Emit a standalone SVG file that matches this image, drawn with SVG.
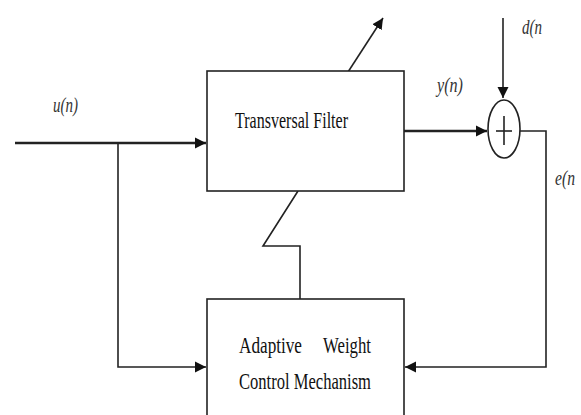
<svg xmlns="http://www.w3.org/2000/svg" width="581" height="415" viewBox="0 0 581 415">
<style>
.box{fill:#fff;stroke:#222;stroke-width:1.6}
.ln{fill:none;stroke:#222;stroke-width:1.6}
.thick{fill:none;stroke:#222;stroke-width:2.6}
.t{font-family:"Liberation Serif","Times New Roman",serif;font-size:23px;fill:#111}
.lab{font-family:"Liberation Serif","Times New Roman",serif;font-style:italic;font-size:21px;fill:#333}
</style>
<defs>
<marker id="ah" viewBox="0 0 10 10" refX="10" refY="5" markerWidth="11" markerHeight="13" markerUnits="userSpaceOnUse" orient="auto">
<path d="M0,0 L10,5 L0,10 Z" fill="#111"/>
</marker>
</defs>
<rect width="581" height="415" fill="#fff"/>
<g id="connectors">
<line class="thick" x1="15" y1="143" x2="206" y2="143" marker-end="url(#ah)"/>
<polyline class="ln" points="118,143 118,367 206,367" marker-end="url(#ah)"/>
<line class="thick" x1="404" y1="131" x2="487" y2="131" marker-end="url(#ah)"/>
<line class="ln" x1="503" y1="18" x2="503" y2="98" marker-end="url(#ah)"/>
<polyline class="ln" points="520,131 546,131 546,367 405,367" marker-end="url(#ah)"/>
<line class="ln" x1="348" y1="72" x2="383" y2="18" marker-end="url(#ah)"/>
<polyline class="ln" points="298,191 263,246 300,246 300,299"/>
</g>
<g id="filter">
<rect class="box" x="207" y="71" width="197" height="120"/>
<text class="t" x="235" y="128" textLength="113" lengthAdjust="spacingAndGlyphs">Transversal Filter</text>
</g>
<g id="adaptive">
<rect class="box" x="207" y="299" width="197" height="130"/>
<text class="t" x="239" y="353" textLength="63" lengthAdjust="spacingAndGlyphs">Adaptive</text>
<text class="t" x="323" y="353" textLength="48" lengthAdjust="spacingAndGlyphs">Weight</text>
<text class="t" x="239" y="389" textLength="132" lengthAdjust="spacingAndGlyphs">Control Mechanism</text>
</g>
<g id="sum">
<ellipse class="box" cx="504" cy="129" rx="16" ry="29"/>
<line class="ln" x1="496" y1="131" x2="512" y2="131"/>
<line class="ln" x1="504" y1="116" x2="504" y2="145"/>
</g>
<g id="labels">
<text class="lab" x="53" y="112" textLength="25" lengthAdjust="spacingAndGlyphs">u(n)</text>
<text class="lab" x="437" y="92" textLength="26" lengthAdjust="spacingAndGlyphs">y(n)</text>
<text class="lab" x="522" y="34" textLength="20" lengthAdjust="spacingAndGlyphs">d(n</text>
<text class="lab" x="555" y="185" textLength="20" lengthAdjust="spacingAndGlyphs">e(n</text>
</g>
</svg>
